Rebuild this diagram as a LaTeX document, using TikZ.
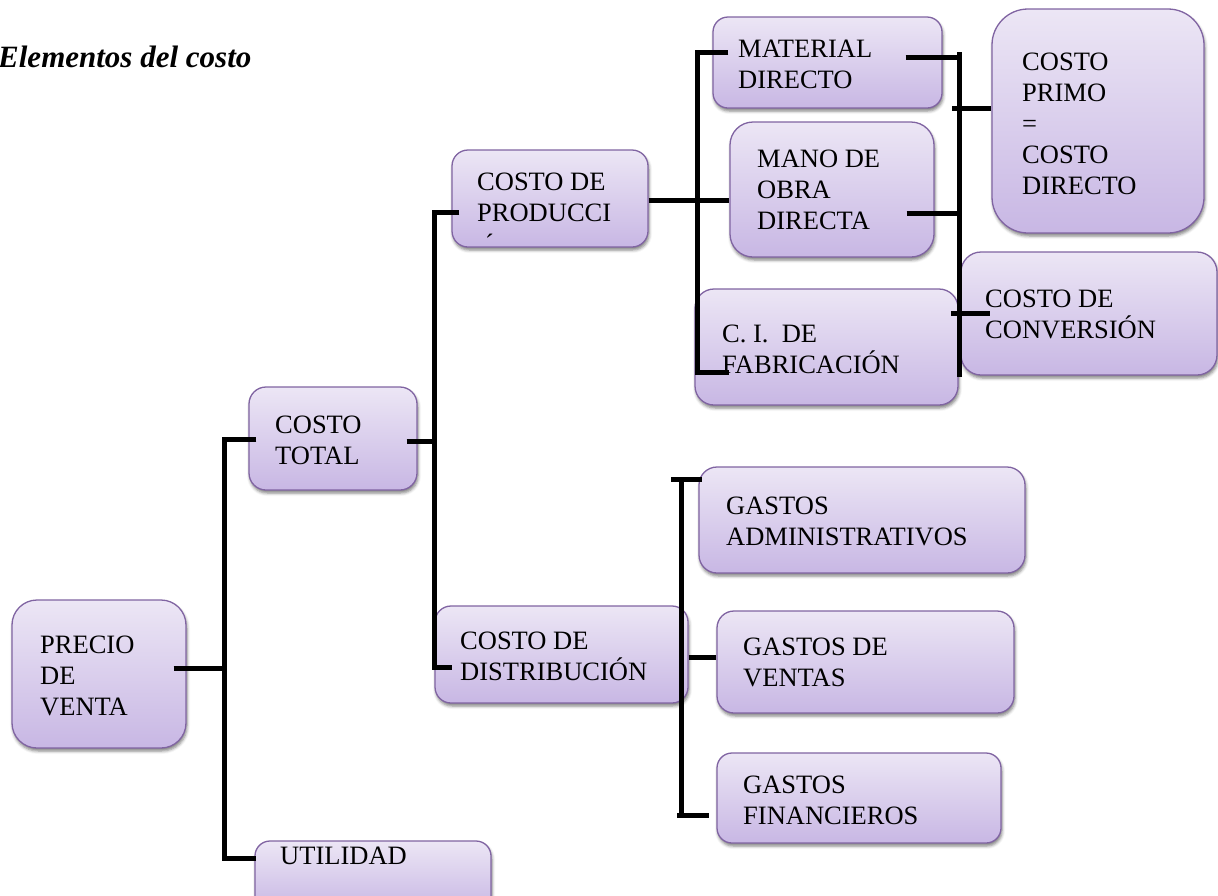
\documentclass[tikz,border=0pt]{standalone}
\usepackage{fontspec}
\setmainfont{Liberation Serif}
\usetikzlibrary{shadows.blur,calc}

\definecolor{boxtop}{RGB}{236,230,245}
\definecolor{boxbot}{RGB}{200,183,228}
\definecolor{boxline}{RGB}{128,100,162}

\tikzset{
  box/.style={draw=boxline, line width=1.3pt, top color=boxtop, bottom color=boxbot,
    inner sep=0pt,
    blur shadow={shadow xshift=1pt, shadow yshift=-3pt, shadow blur radius=3pt, shadow opacity=50}},
  txt/.style={anchor=base west, inner sep=0pt, font=\fontsize{26.5}{31}\selectfont},
  conn/.style={draw=black, line width=5pt, line join=miter}
}

\begin{document}
\begin{tikzpicture}[x=1pt,y=-1pt]
\useasboundingbox (0,0) rectangle (1218,895);

% title
\node[anchor=base west, inner sep=0pt, font=\bfseries\itshape\fontsize{31}{37}\selectfont]
  (title) at (-2,67) {Elementos del costo};

% boxes
\node[box, minimum width=174pt, minimum height=148pt, rounded corners=25pt] (pv)  at (99,674) {};
\node[box, minimum width=168pt, minimum height=103pt, rounded corners=17pt] (ct)  at (333,438.5) {};
\node[box, minimum width=236pt, minimum height=70pt,  rounded corners=15pt] (ut)  at (373,876) {};
\node[box, minimum width=196pt, minimum height=97pt,  rounded corners=16pt] (cpd) at (550,198.5) {};
\node[box, minimum width=253pt, minimum height=97pt,  rounded corners=16pt] (cdi) at (561.5,654.5) {};
\node[box, minimum width=229pt, minimum height=91pt,  rounded corners=15pt] (md)  at (827.5,62.5) {};
\node[box, minimum width=204pt, minimum height=135pt, rounded corners=23pt] (mo)  at (832,189.5) {};
\node[box, minimum width=263pt, minimum height=116pt, rounded corners=19pt] (ci)  at (826.5,347) {};
\node[box, minimum width=212pt, minimum height=224pt, rounded corners=36pt] (cpr) at (1098,121) {};
\node[box, minimum width=256pt, minimum height=123pt, rounded corners=20pt] (ccv) at (1089,313.5) {};
\node[box, minimum width=326pt, minimum height=106pt, rounded corners=18pt] (ga)  at (862,520) {};
\node[box, minimum width=297pt, minimum height=102pt, rounded corners=17pt] (gv)  at (865.5,662) {};
\node[box, minimum width=284pt, minimum height=90pt,  rounded corners=15pt] (gf)  at (859,798) {};

% junction points of the brackets
\coordinate (aT) at (224,439);  \coordinate (aM) at (224,668);  \coordinate (aB) at (224,858);
\coordinate (bT) at (434,212);  \coordinate (bM) at (434,441);  \coordinate (bB) at (434,667);
\coordinate (cT) at (697,52);   \coordinate (cM) at (697,200);  \coordinate (cB) at (697,372);
\coordinate (dT) at (959,52);   \coordinate (dB) at (959,377);
\coordinate (dA) at (959,57);   \coordinate (dMo) at (959,213);
\coordinate (dP) at (952,108);  \coordinate (dC) at (951,313);
\coordinate (eT) at (681,479);  \coordinate (eM) at (681,657);  \coordinate (eB) at (681,815);

% precio de venta -> costo total / utilidad
\draw[conn] ([xshift=8pt]ct.west |- aT) -- (aT) -- (aB) -- ([xshift=2pt]ut.west |- aB);
\draw[conn] ([xshift=-13pt]pv.east |- aM) -- (aM);

% costo total -> produccion / distribucion
\draw[conn] ([xshift=8pt]cpd.west |- bT) -- (bT) -- (bB) -- ([xshift=18pt]cdi.west |- bB);
\draw[conn] ([xshift=-11pt]ct.east |- bM) -- (bM);

% costo de produccion -> elementos
\draw[conn] ([xshift=16pt]md.west |- cT) -- (cT) -- (cB) -- ([xshift=35pt]ci.west |- cB);
\draw[conn] (cpd.east |- cM) -- (mo.west |- cM);

% elementos -> costo primo / costo de conversion
\draw[conn] (dT) -- (dB);
\draw[conn] ([xshift=-37pt]md.east |- dA) -- (dA);
\draw[conn] ([xshift=-28pt]mo.east |- dMo) -- (dMo);
\draw[conn] (dP) -- (cpr.west |- dP);
\draw[conn] (dC) -- ([xshift=30pt]ccv.west |- dC);

% costo de distribucion -> gastos
\draw[conn] ([xshift=-10pt]eT) -- ([xshift=4pt]ga.west |- eT);
\draw[conn] (eT) -- (eB);
\draw[conn] ([xshift=-4pt]eB) -- ([xshift=-7pt]gf.west |- eB);
\draw[conn] (cdi.east |- eM) -- (gv.west |- eM);

% labels
\node[txt] (tpv)  at (40,653)   {\vtop{\hbox{PRECIO}\hbox{DE}\hbox{VENTA}}};
\node[txt] (tct)  at (275,433)  {\vtop{\hbox{COSTO}\hbox{TOTAL}}};
\node[txt] (tut)  at (280,864)  {UTILIDAD};
\node[txt] (tcpd) at (477,190)  {\vtop{\hbox{COSTO DE}\hbox{PRODUCCI}\hbox{\kern8pt ´}}};
\node[txt] (tcdi) at (460,649)  {\vtop{\hbox{COSTO DE}\hbox{DISTRIBUCIÓN}}};
\node[txt] (tmd)  at (738,57)   {\vtop{\hbox{MATERIAL}\hbox{DIRECTO}}};
\node[txt] (tmo)  at (757,167)  {\vtop{\hbox{MANO DE}\hbox{OBRA}\hbox{DIRECTA}}};
\node[txt] (tci)  at (722,342)  {\vtop{\hbox{C. I.\ \ DE}\hbox{FABRICACIÓN}}};
\node[txt] (tcpr) at (1022,70)  {\vtop{\hbox{COSTO}\hbox{PRIMO}\hbox{=}\hbox{COSTO}\hbox{DIRECTO}}};
\node[txt] (tccv) at (985,307)  {\vtop{\hbox{COSTO DE}\hbox{CONVERSIÓN}}};
\node[txt] (tga)  at (726,514)  {\vtop{\hbox{GASTOS}\hbox{ADMINISTRATIVOS}}};
\node[txt] (tgv)  at (743,655)  {\vtop{\hbox{GASTOS DE}\hbox{VENTAS}}};
\node[txt] (tgf)  at (743,793)  {\vtop{\hbox{GASTOS}\hbox{FINANCIEROS}}};
\end{tikzpicture}
\end{document}
